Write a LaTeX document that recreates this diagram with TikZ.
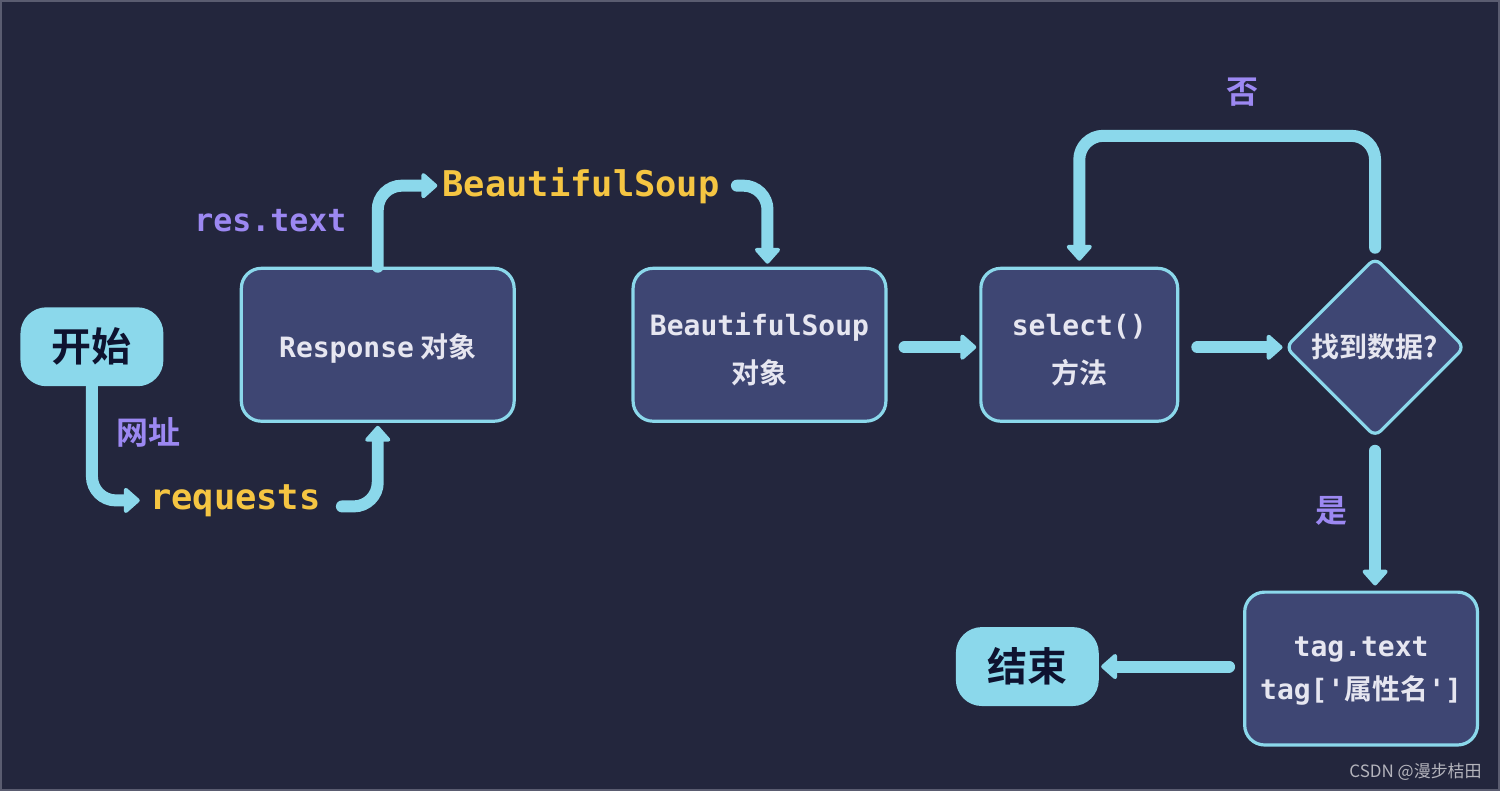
\documentclass[tikz,border=0pt]{standalone}
\usepackage{fontspec}
\usetikzlibrary{arrows.meta,shapes.geometric}
\setmainfont{Noto Sans}
\newfontfamily\cjk{Noto Sans CJK SC}[BoldFont={Noto Sans CJK SC Bold}]
\newfontfamily\mono{DejaVu Sans Mono}[BoldFont={DejaVu Sans Mono Bold}]
\definecolor{bg}{HTML}{23263D}
\definecolor{boxfill}{HTML}{3E4673}
\definecolor{cyanline}{HTML}{8BD8EB}
\definecolor{ylw}{HTML}{F5C542}
\definecolor{prp}{HTML}{9C88F2}
\definecolor{txt}{HTML}{E6E6F0}
\definecolor{darktxt}{HTML}{0E1330}
\definecolor{credit}{HTML}{B4B4BC}
\definecolor{frame}{HTML}{5A5C70}
\newcommand{\BoxMono}{\mono\bfseries\fontsize{14}{24}\selectfont}
\newcommand{\BoxCJK}{\cjk\bfseries\fontsize{14}{24}\selectfont}
\newcommand{\TopStrut}{\rule{0pt}{16pt}}
\begin{document}
\begin{tikzpicture}[x={(0.5pt,0)}, y={(0,-0.5pt)},
  procbox/.style={draw=cyanline, line width=1.6pt, fill=boxfill, rounded corners=10pt,
    minimum height=76.5pt, text=txt, align=center, inner sep=0pt, font=\BoxMono},
  term/.style={fill=cyanline, rounded corners=13pt, minimum width=71.5pt, minimum height=39.5pt,
    text=darktxt, inner sep=0pt, font=\cjk\bfseries\fontsize{20}{24}\selectfont},
  decision/.style={diamond, aspect=1, draw=cyanline, line width=1.6pt, fill=boxfill,
    rounded corners=4pt, minimum width=90pt, minimum height=90pt, inner sep=0pt,
    text=txt, font=\cjk\bfseries\fontsize{14}{18}\selectfont},
  codelabel/.style={text=ylw, inner sep=0pt, font=\mono\bfseries\fontsize{17.7}{20}\selectfont},
  notelabel/.style={text=prp, inner sep=0pt},
  flow/.style={draw=cyanline, line width=6pt, line cap=round, rounded corners=12pt,
    -{Triangle[round, width=14.5pt, length=8.5pt, line width=2pt]}}
]
\fill[bg] (0,0) rectangle (1500,791);
\draw[frame, line width=1pt] (0.5,0.5) rectangle (1499.5,790.5);

% nodes
\node[term] (start) at (91.5,346.5) {开始};
\node[procbox, minimum width=136.5pt] (resp) at (377.5,344.5) {\TopStrut Response{\BoxCJK\ 对象}};
\node[procbox, minimum width=126.5pt] (bsobj) at (759.5,344.5) {\TopStrut BeautifulSoup\\{\BoxCJK 对象}};
\node[procbox, minimum width=98.5pt] (sel) at (1079.5,344.5) {\TopStrut select()\\{\BoxCJK 方法}};
\node[decision] (dia) at (1375.5,347) {找到数据?};
\node[procbox, minimum width=116.5pt, font=\mono\bfseries\fontsize{14}{21.5}\selectfont] (tag) at (1361.5,668.5)
  {\rule{0pt}{12pt}tag.text\\tag['{\cjk\bfseries 属性名}']};
\node[term] (end) at (1027.5,666.5) {结束};

% labels
\node[notelabel, font=\cjk\bfseries\fontsize{16}{18}\selectfont] (url) at (148,432) {网址};
\node[codelabel, anchor=base] (req) at (235,509) {requests};
\node[notelabel, anchor=base, font=\mono\bfseries\fontsize{15.8}{18}\selectfont] (rtext) at (270,231) {res.text};
\node[codelabel, anchor=base] (bs) at (581,196) {BeautifulSoup};
\node[notelabel, font=\cjk\bfseries\fontsize{16}{18}\selectfont] (no) at (1243,92) {否};
\node[notelabel, font=\cjk\bfseries\fontsize{16}{18}\selectfont] (yes) at (1332,511) {是};
\node[text=credit, inner sep=0pt, font=\cjk\fontsize{8.5}{10}\selectfont] (cred) at (1416,772) {CSDN @漫步桔田};

% connectors
\draw[flow, shorten >=5pt] (start.south) |- (req.west);
\draw[flow, shorten <=10.5pt, shorten >=1.5pt] ([yshift=-3pt]req.east) -| (resp.south);
\draw[flow, shorten >=2.5pt] (resp.north) |- (bs.west);
\draw[flow, shorten <=8.5pt, shorten >=1.5pt] (bs.east) -| ([xshift=4pt]bsobj.north);
\draw[flow, shorten <=8.5pt, shorten >=1.5pt] ([yshift=-1.2pt]bsobj.east) -- ([yshift=-1.2pt]sel.west);
\draw[flow, shorten <=9pt, shorten >=0.5pt] (sel.east |- dia.west) -- (dia.west);
\draw[flow, shorten <=4pt, shorten >=3pt] (dia.north) -- ++(0,-120) -| (sel.north);
\draw[flow, shorten <=6pt, shorten >=2.5pt] (dia.south) -- (dia.south |- tag.north);
\draw[flow, shorten <=7pt, shorten >=1pt] (end.east -| tag.west) -- (end.east);
\end{tikzpicture}
\end{document}
